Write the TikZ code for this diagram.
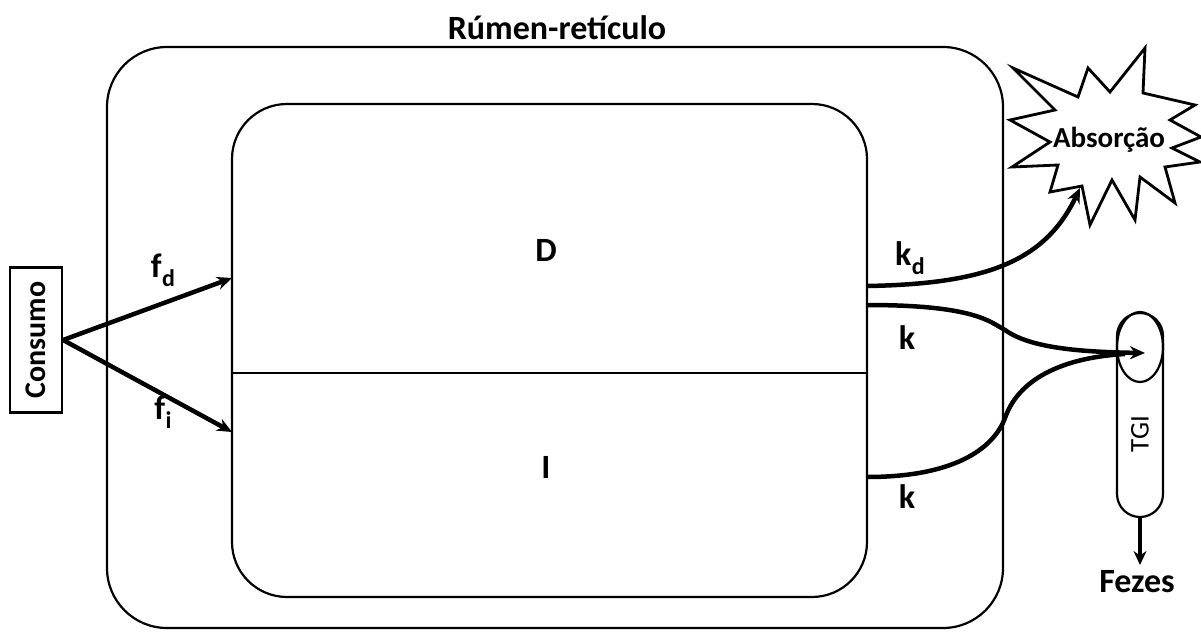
\documentclass[tikz,border=0pt]{standalone}
\usepackage{fontspec}
\setmainfont{Carlito}
\usetikzlibrary{arrows.meta,shapes.geometric}
\tikzset{
  box/.style={draw,line width=2.2pt,inner sep=0pt},
  lbl/.style={font=\fontsize{34}{34}\selectfont\bfseries,inner sep=0pt},
  flow/.style={line width=4.5pt,-{Stealth[length=15pt,width=13pt]}},
  flowplain/.style={line width=4.5pt},
}
\newcommand{\sub}[2]{#1\kern0.5pt\raisebox{-9pt}{\fontsize{24}{24}\selectfont #2}}
\begin{document}
\begin{tikzpicture}[x=1pt,y=-1pt]
\useasboundingbox (0,0) rectangle (1201,634);
% outer and inner boxes
\node[box,rounded corners=60pt,minimum width=896pt,minimum height=581pt] (outer) at (555,337.5) {};
\node[box,rounded corners=55pt,minimum width=635pt,minimum height=493pt] (inner) at (549.5,350.5) {};
\draw[line width=2.2pt] (inner.west |- 0,373) coordinate (divL) -- (inner.east |- 0,373) coordinate (divR);
\node[lbl] (title) at (557,28) {Rúmen-retículo};
\node[lbl] (D) at (546,250) {D};
\node[lbl] (I) at (546,467) {I};
% Consumo
\node[box,rotate=90,minimum width=145pt,minimum height=52pt,font=\fontsize{30}{30}\selectfont\bfseries] (cons) at (36,340) {Consumo};
\coordinate (fdIn) at (232,278);
\coordinate (fiIn) at (232,432);
\draw[flow] (cons.south) -- (fdIn);
\draw[flow] (cons.south) -- (fiIn);
\node[lbl] (fd) at (163,270) {\sub{f}{d}};
\node[lbl] (fi) at (163,412) {\sub{f}{i}};
% absorption starburst
\draw[line width=2.8pt,line join=miter,fill=white]
 (1013,68) -- (1078,97) -- (1088,68) -- (1110,92) -- (1145,48) -- (1143,93)
 -- (1195,105) -- (1170,120) -- (1201,137) -- (1172,148) -- (1200,162) -- (1165,167)
 -- (1175,203) -- (1140,177) -- (1135,220) -- (1112,180) -- (1090,225) -- (1082,186)
 -- (1050,192) -- (1058,165) -- (1012,167) -- (1050,142) -- (1010,120) -- (1055,110) -- cycle;
\node[font=\fontsize{29}{29}\selectfont\bfseries,inner sep=0pt] (abs) at (1109,140) {Absorção};
\coordinate (absIn) at (1080,188);
% TGI
\node[box,rounded corners=23pt,minimum width=46pt,minimum height=204pt] (tgi) at (1140,415) {};
\node[draw,line width=2.2pt,ellipse,minimum width=46pt,minimum height=70pt,inner sep=0pt] (tgitop) at (1140,347) {};
\node[rotate=90,font=\fontsize{27}{27}\selectfont,inner sep=0pt] (tgitext) at (1140,434) {TGI};
\node[lbl] (fezes) at (1137,582) {Fezes};
\draw[line width=4.5pt,-{Stealth[length=14pt,width=13pt]}] (tgi.south) -- (1140,565) coordinate (fezIn);
% outflows
\coordinate (kdOut) at (867,286);
\coordinate (kOut) at (867,305);
\coordinate (k2Out) at (867,477);
\coordinate (tgiIn) at (1145,353);
\draw[flow] (kdOut) .. controls (985,284) and (1045,262) .. (absIn);
\draw[flow] (kOut) .. controls (975,305) and (990,322) .. (1005,330) .. controls (1030,348) and (1080,352) .. (tgiIn);
\draw[flowplain] (k2Out) .. controls (960,477) and (995,445) .. (1005,418) .. controls (1020,375) and (1070,357) .. (1125,354);
\node[lbl] (kd) at (910,258) {\sub{k}{d}};
\node[lbl] (k1) at (907,338) {k};
\node[lbl] (k2) at (907,497) {k};
\end{tikzpicture}
\end{document}
